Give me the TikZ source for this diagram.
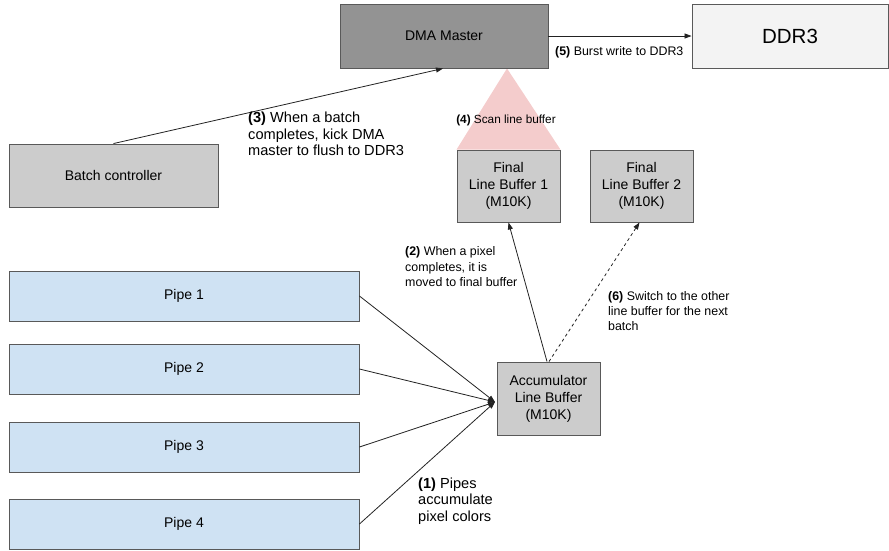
\documentclass[tikz,border=0pt]{standalone}
\usepackage{fontspec}
\setmainfont{Liberation Sans}
\usetikzlibrary{arrows.meta,calc}
\definecolor{edgegray}{HTML}{595959}
\definecolor{dmagray}{HTML}{939393}
\definecolor{boxgray}{HTML}{CCCCCC}
\definecolor{ddrfill}{HTML}{F3F3F3}
\definecolor{pipeblue}{HTML}{CFE2F3}
\definecolor{scanpink}{HTML}{F4CCCC}
\definecolor{wire}{HTML}{222222}
\pgfdeclarelayer{background}
\pgfsetlayers{background,main}
\tikzset{
  blockbox/.style={draw=edgegray, line width=0.9pt, inner sep=0pt, align=center,
    font=\fontsize{14}{17}\selectfont},
  pipebox/.style={blockbox, fill=pipeblue, minimum width=350pt, minimum height=50pt},
  bufbox/.style={blockbox, fill=boxgray, minimum width=103pt, minimum height=72pt},
  note/.style={align=left, inner sep=0pt, font=\fontsize{12.4}{15.5}\selectfont},
  bignote/.style={align=left, inner sep=0pt, font=\fontsize{14.6}{16.5}\selectfont},
  link/.style={draw=wire, line width=0.8pt, -{Triangle[length=7pt,width=5pt]}},
}
\begin{document}
\begin{tikzpicture}[x=1pt,y=-1pt]
\useasboundingbox (0,0) rectangle (889,550);

% top row: DMA engine and external memory
\node[blockbox, fill=dmagray, minimum width=208pt, minimum height=64pt] (dma) at (444,36) {DMA Master};
\node[blockbox, fill=ddrfill, minimum width=196pt, minimum height=64pt,
      font=\fontsize{20.5}{24}\selectfont] (ddr) at (790,36) {DDR3};

% control and buffers
\node[blockbox, fill=boxgray, minimum width=209pt, minimum height=63pt] (batch) at (113.5,175.5) {Batch controller};
\node[bufbox] (lb1) at (508.5,186) {Final\\Line Buffer 1\\(M10K)};
\node[bufbox] (lb2) at (641.5,186) {Final\\Line Buffer 2\\(M10K)};
\node[bufbox, minimum height=73pt] (acc) at (548.5,398.5) {Accumulator\\Line Buffer\\(M10K)};

% pipes
\node[pipebox] (p1) at (184,296) {Pipe 1};
\node[pipebox] (p2) at (184,369) {Pipe 2};
\node[pipebox] (p3) at (184,447) {Pipe 3};
\node[pipebox] (p4) at (184,524) {Pipe 4};

% scan cone from the DMA master onto line buffer 1
\coordinate (apex) at ([xshift=63pt]dma.south);
\begin{pgfonlayer}{background}
  \fill[scanpink] (apex) -- (lb1.north west) -- (lb1.north east) -- cycle;
\end{pgfonlayer}

% connectors
\coordinate (hub) at (495,402);
\draw[link] (dma.east) -- (ddr.west);
\draw[link] (batch.north) -- ([xshift=-1pt]dma.south);
\draw[link] ([xshift=-1.5pt]acc.north) -- (lb1.south);
\draw[link, dashed] ([xshift=0.5pt]acc.north) -- ([xshift=-2pt]lb2.south);
\foreach \p in {p1,p2,p3,p4} \draw[link] (\p.east) -- (hub);

% step labels
\node[note, anchor=west] (l5) at (555,52) {\textbf{(5)} Burst write to DDR3};
\node[note, anchor=center, font=\fontsize{11.8}{14}\selectfont] (l4) at (506,120) {\textbf{(4)} Scan line buffer};
\node[bignote, anchor=west] (l3) at (248,134) {\textbf{(3)} When a batch\\completes, kick DMA\\master to flush to DDR3};
\node[note, anchor=west] (l2) at (405,267) {\textbf{(2)} When a pixel\\completes, it is\\moved to final buffer};
\node[note, anchor=west, font=\fontsize{12.4}{15}\selectfont] (l6) at (608,311) {\textbf{(6)} Switch to the other\\line buffer for the next\\batch};
\node[bignote, anchor=west] (l1) at (418,501) {\textbf{(1)} Pipes\\accumulate\\pixel colors};
\end{tikzpicture}
\end{document}
